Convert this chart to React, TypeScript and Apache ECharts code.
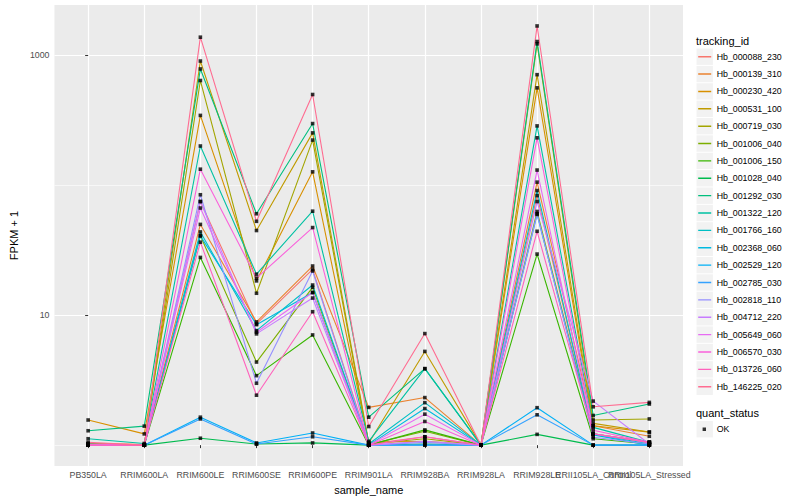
import React, { useEffect, useRef } from 'react';
import * as echarts from 'echarts';

const samples = [
  'PB350LA', 'RRIM600LA', 'RRIM600LE', 'RRIM600SE', 'RRIM600PE', 'RRIM901LA',
  'RRIM928BA', 'RRIM928LA', 'RRIM928LE', 'RRII105LA_Control', 'RRII105LA_Stressed',
];

const trackingIds = [
  'Hb_000088_230', 'Hb_000139_310', 'Hb_000230_420', 'Hb_000531_100', 'Hb_000719_030',
  'Hb_001006_040', 'Hb_001006_150', 'Hb_001028_040', 'Hb_001292_030', 'Hb_001322_120',
  'Hb_001766_160', 'Hb_002368_060', 'Hb_002529_120', 'Hb_002785_030', 'Hb_002818_110',
  'Hb_004712_220', 'Hb_005649_060', 'Hb_006570_030', 'Hb_013726_060', 'Hb_146225_020',
];

const colors = [
  '#F8766D', '#EA8331', '#D89000', '#C09B00', '#A3A500', '#7CAE00', '#39B600', '#00BB4E',
  '#00BF7D', '#00C1A3', '#00BFC4', '#00BAE0', '#00B0F6', '#35A2FF', '#9590FF', '#C77CFF',
  '#E76BF3', '#FA62DB', '#FF62BC', '#FF6C91',
];

// FPKM + 1 per sample (order of `samples`)
const hb_000088_230 = [1.02, 1.01, 74.5, 8.54, 22.4, 1.02, 1.16, 1.0, 82.8, 1.22, 1.05];
const hb_000139_310 = [1.03, 1.01, 49.7, 8.85, 23.8, 1.95, 2.32, 1.0, 105, 1.41, 1.17];
const hb_000230_420 = [1.56, 1.22, 342, 18.3, 126, 1.05, 1.07, 1.0, 557, 1.41, 1.26];
const hb_000531_100 = [1.02, 1.0, 895, 44.6, 251, 1.04, 5.25, 1.0, 703, 1.47, 1.26];
const hb_000719_030 = [1.02, 1.0, 634, 14.7, 221, 1.02, 1.12, 1.0, 1213, 1.56, 1.59];
const hb_001006_040 = [1.01, 1.0, 40.6, 4.35, 16.3, 1.01, 1.28, 1.0, 62.5, 1.22, 1.05];
const hb_001006_150 = [1.0, 1.0, 27.7, 3.42, 7.03, 1.0, 1.31, 1.0, 29.4, 1.12, 1.02];
const hb_001028_040 = [1.0, 1.0, 1.13, 1.02, 1.04, 1.0, 1.02, 1.0, 1.21, 1.0, 1.0];
const hb_001292_030 = [1.29, 1.4, 778, 60, 296, 1.64, 3.87, 1.0, 1264, 1.69, 2.07];
const hb_001322_120 = [1.12, 1.03, 199, 20.6, 62.8, 1.07, 3.87, 1.0, 284, 1.37, 1.05];
const hb_001766_160 = [1.02, 1.0, 43.5, 7.59, 17.0, 1.02, 2.12, 1.0, 90.5, 1.22, 1.02];
const hb_002368_060 = [1.0, 1.0, 40.6, 8.43, 14.9, 1.0, 1.91, 1.0, 59.3, 1.2, 1.0];
const hb_002529_120 = [1.0, 1.0, 1.64, 1.04, 1.24, 1.0, 1.0, 1.0, 1.94, 1.0, 1.0];
const hb_002785_030 = [1.0, 1.0, 1.59, 1.02, 1.16, 1.0, 1.0, 1.0, 1.71, 1.0, 1.0];
const hb_002818_110 = [1.0, 1.0, 84, 2.99, 21.8, 1.0, 1.05, 1.0, 60, 1.15, 1.02];
const hb_004712_220 = [1.0, 1.0, 74.5, 7.16, 13.5, 1.0, 1.07, 1.0, 74.5, 2.18, 1.02];
const hb_005649_060 = [1.0, 1.0, 66.4, 7.38, 14.9, 1.0, 1.73, 1.0, 130, 1.22, 1.05];
const hb_006570_030 = [1.0, 1.0, 132, 19.2, 47, 1.0, 1.52, 1.0, 230, 1.3, 1.05];
const hb_013726_060 = [1.0, 1.0, 36.3, 2.42, 10.6, 1.0, 1.16, 1.0, 44, 1.22, 1.05];
const hb_146225_020 = [1.05, 1.0, 1365, 52.5, 495, 1.39, 7.2, 1.0, 1665, 1.97, 2.13];

const seriesValues = [
  hb_000088_230, hb_000139_310, hb_000230_420, hb_000531_100, hb_000719_030,
  hb_001006_040, hb_001006_150, hb_001028_040, hb_001292_030, hb_001322_120,
  hb_001766_160, hb_002368_060, hb_002529_120, hb_002785_030, hb_002818_110,
  hb_004712_220, hb_005649_060, hb_006570_030, hb_013726_060, hb_146225_020,
];

const yMajorTicks = [10, 1000];
const yMinorTicks = [1, 100];
const quantStatus = ['OK'];

const FONT = '"Liberation Sans", Arial, Helvetica, sans-serif';

export default function App() {
  const ref = useRef<HTMLDivElement>(null);

  useEffect(() => {
    if (!ref.current) return;
    const chart = echarts.init(ref.current, null, { renderer: 'svg' });

    const all = seriesValues.flat();
    const lmin = Math.log10(Math.min(...all));
    const lmax = Math.log10(Math.max(...all));
    const pad = (lmax - lmin) * 0.05;
    const lo = lmin - pad;
    const hi = lmax + pad;
    const idx = samples.map((_, i) => i);
    const evenIdx = idx.filter((i) => i % 2 === 0);
    const oddIdx = idx.filter((i) => i % 2 === 1);
    const xMin = -0.6;
    const xMax = samples.length - 0.4;

    const legendLeft = 696.7;
    const legendTop = 48.2;
    const pitch = 17.37;
    const okTop = 420.7;

    const xLabelStyle = {
      formatter: (v: number) => samples[Math.round(v)] ?? '',
      fontSize: 8.8, color: '#4D4D4D', margin: 4, fontFamily: FONT,
      hideOverlap: false,
    };

    const keyRects = trackingIds.map((_, k) => ({
      type: 'rect',
      silent: true,
      z: 0,
      shape: { x: 696.5, y: legendTop + k * pitch + 0.3, width: 16.4, height: 16.4 },
      style: { fill: '#F2F2F2' },
    }));

    const option = {
      animation: false,
      backgroundColor: '#FFFFFF',
      color: colors,
      textStyle: { fontFamily: FONT },
      grid: {
        left: 45, top: 5, width: 638, height: 465,
        show: true, backgroundColor: '#EBEBEB', borderWidth: 0,
      },
      xAxis: [
        {
          type: 'value',
          position: 'bottom',
          min: xMin,
          max: xMax,
          axisLine: { show: false },
          axisTick: { show: true, length: 3, lineStyle: { color: '#333333', width: 1 }, customValues: idx },
          axisLabel: { ...xLabelStyle, customValues: evenIdx },
          splitLine: { show: true, lineStyle: { color: '#FFFFFF', width: 1.2 } },
          name: 'sample_name',
          nameLocation: 'middle',
          nameGap: 13,
          nameTextStyle: { fontSize: 11, color: '#000000', fontFamily: FONT },
        },
        {
          type: 'value',
          position: 'bottom',
          min: xMin,
          max: xMax,
          axisLine: { show: false },
          axisTick: { show: false, customValues: oddIdx },
          axisLabel: { ...xLabelStyle, customValues: oddIdx },
          splitLine: { show: false },
        },
      ],
      yAxis: [
        {
          type: 'log', logBase: 10, min: Math.pow(10, lo), max: Math.pow(10, hi), show: false,
        },
        {
          type: 'value', min: lo, max: hi, position: 'left',
          axisLine: { show: false },
          axisTick: {
            show: true, length: 3, lineStyle: { color: '#333333', width: 1 },
            customValues: yMajorTicks.map((t) => Math.log10(t)),
          },
          axisLabel: {
            customValues: yMajorTicks.map((t) => Math.log10(t)),
            formatter: (v: number) => String(Math.round(Math.pow(10, v))),
            fontSize: 8.8, color: '#4D4D4D', margin: 5, fontFamily: FONT,
          },
          splitLine: { show: true, lineStyle: { color: '#FFFFFF', width: 1.2 } },
          name: 'FPKM + 1',
          nameLocation: 'middle',
          nameGap: 26,
          nameRotate: 90,
          nameTextStyle: { fontSize: 11, color: '#000000', fontFamily: FONT },
        },
        {
          type: 'value', min: lo, max: hi, position: 'left',
          axisLine: { show: false },
          axisTick: { show: false, customValues: yMinorTicks.map((t) => Math.log10(t)) },
          axisLabel: { show: false, customValues: yMinorTicks.map((t) => Math.log10(t)) },
          splitLine: { show: true, lineStyle: { color: '#FFFFFF', width: 0.6 } },
        },
      ],
      legend: [
        {
          data: trackingIds,
          orient: 'vertical',
          left: legendLeft,
          top: legendTop,
          padding: 0,
          itemWidth: 15,
          itemHeight: 17,
          itemGap: pitch - 17,
          icon: 'path://M0,0L0,0ZM15,17L15,17ZM1.5,7.8L14.5,7.8L14.5,9.2L1.5,9.2Z',
          itemStyle: { borderWidth: 0 },
          textStyle: { fontSize: 8.8, color: '#000000', fontFamily: FONT },
          selectedMode: false,
        },
        {
          data: quantStatus,
          orient: 'vertical',
          left: legendLeft,
          top: okTop,
          padding: 0,
          itemWidth: 15,
          itemHeight: 17,
          icon: 'path://M0,0L0,0ZM15,17L15,17ZM5.9,6.8L9.3,6.8L9.3,10.2L5.9,10.2Z',
          itemStyle: { borderWidth: 0 },
          textStyle: { fontSize: 8.8, color: '#000000', fontFamily: FONT },
          selectedMode: false,
        },
      ],
      graphic: [
        ...keyRects,
        {
          type: 'rect', silent: true, z: 0,
          shape: { x: 696.5, y: okTop + 0.3, width: 16.4, height: 16.4 },
          style: { fill: '#F2F2F2' },
        },
        {
          type: 'text', silent: true, x: 696, y: 40.5,
          style: { text: 'tracking_id', fontSize: 11, fontFamily: FONT, fill: '#000000', verticalAlign: 'middle' },
        },
        {
          type: 'text', silent: true, x: 696, y: 412.5,
          style: { text: 'quant_status', fontSize: 11, fontFamily: FONT, fill: '#000000', verticalAlign: 'middle' },
        },
      ],
      series: [
        ...trackingIds.map((id, k) => ({
          type: 'line',
          name: id,
          xAxisIndex: 0,
          yAxisIndex: 0,
          data: seriesValues[k].map((v, i) => [i, v]),
          symbol: 'none',
          showSymbol: false,
          silent: true,
          lineStyle: { color: colors[k], width: 1.1 },
          itemStyle: { color: colors[k] },
          emphasis: { disabled: true },
          z: 2,
        })),
        {
          type: 'scatter',
          name: 'OK',
          xAxisIndex: 0,
          yAxisIndex: 0,
          data: seriesValues.flatMap((vals) => vals.map((v, i) => [i, v])),
          symbol: 'rect',
          symbolSize: 3.6,
          silent: true,
          itemStyle: { color: '#000000' },
          emphasis: { disabled: true },
          z: 3,
        },
      ],
    };

    chart.setOption(option as any);
    return () => chart.dispose();
  }, []);

  return (
    <div
      ref={ref}
      style={{ position: 'fixed', left: 0, top: 0, width: 800, height: 500 }}
    />
  );
}
